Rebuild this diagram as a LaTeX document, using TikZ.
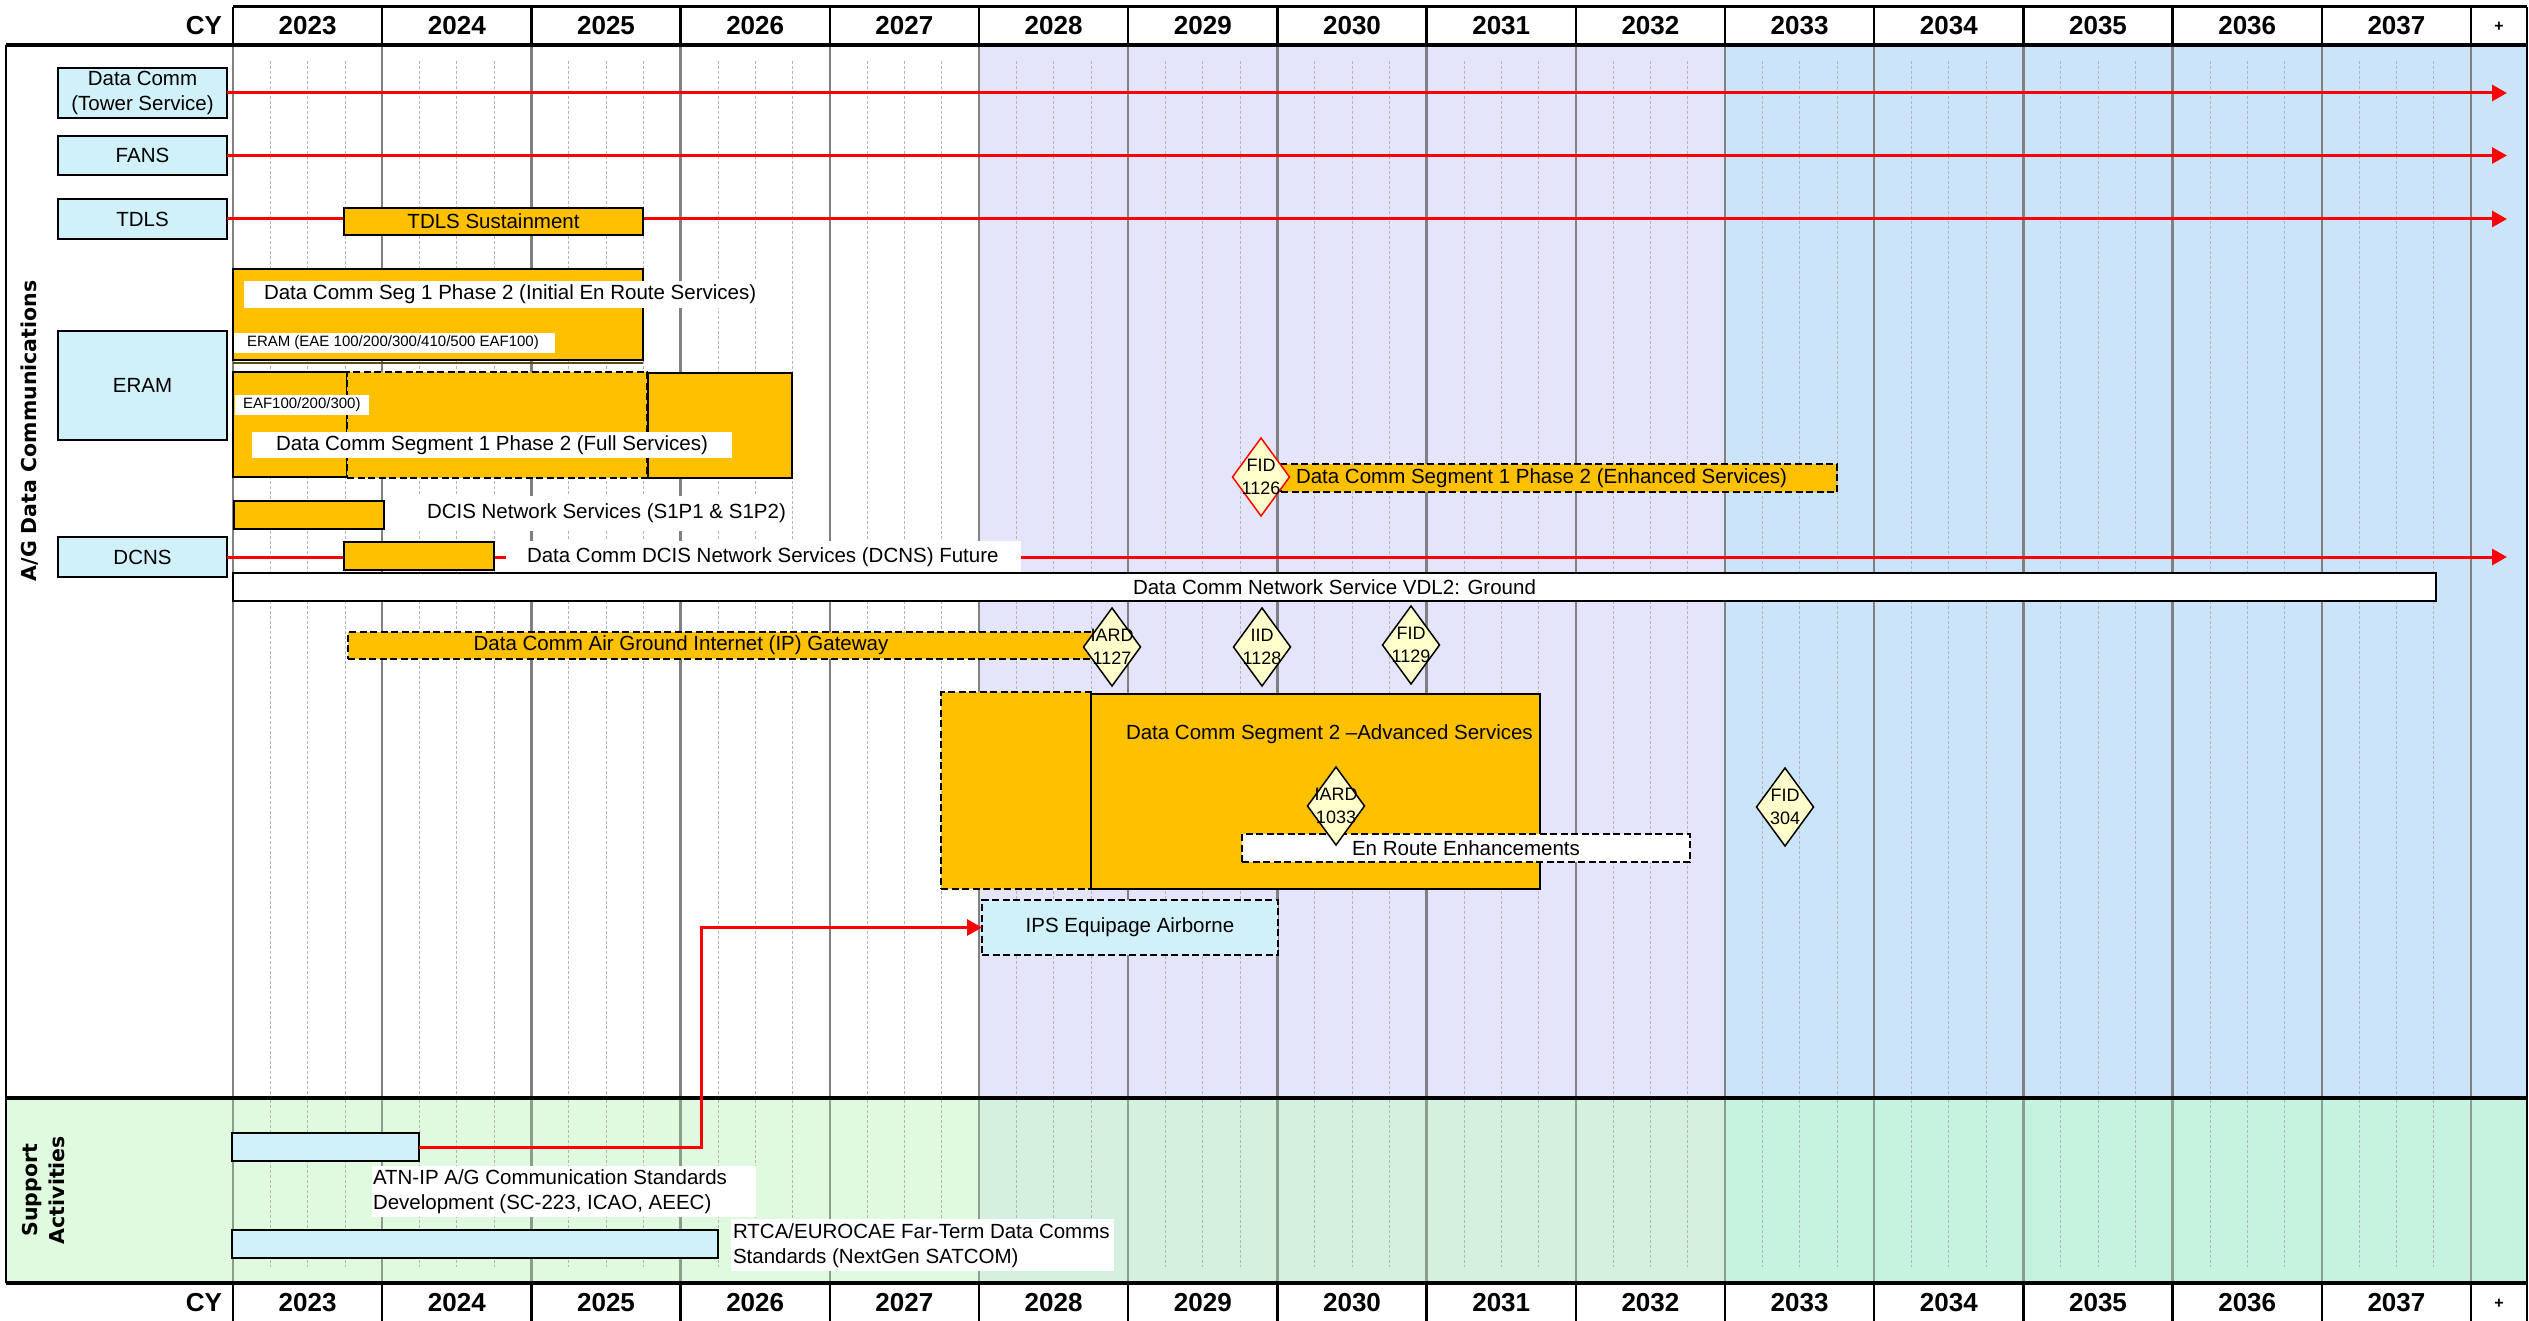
\documentclass[tikz,border=0pt]{standalone}
\usepackage{fontspec}
\setmainfont{Liberation Sans}
\newfontfamily\sidefont{DejaVu Sans}
\usetikzlibrary{arrows.meta,shapes.geometric}
\definecolor{orng}{HTML}{FFC000}
\definecolor{cyanb}{HTML}{D0F0FA}
\definecolor{lav}{HTML}{E4E4FB}
\definecolor{lblue}{HTML}{CCE4FA}
\definecolor{gA}{HTML}{E0FAE0}
\definecolor{gB}{HTML}{D4F0DF}
\definecolor{gC}{HTML}{C6F2E0}
\definecolor{diaf}{HTML}{FFFFCC}
\definecolor{redc}{HTML}{FF0000}
\definecolor{gridg}{HTML}{808080}
\definecolor{gridgs}{HTML}{8A9E8E}
\definecolor{qgray}{HTML}{B4B4B4}
\definecolor{shadowc}{HTML}{5A4A10}
\newcommand\tfont{\fontsize{20.5}{25}\selectfont}
\newcommand\smfont{\fontsize{15}{18}\selectfont}
\newcommand\dfont{\fontsize{18}{22.5}\selectfont}
\newcommand\yfont{\fontsize{26}{30}\selectfont\bfseries}
\newcommand\rfont{\sidefont\bfseries\fontsize{20.5}{27}\selectfont}
\newcommand\gbox[7]{\pgfmathsetmacro\gw{#5-#3}\pgfmathsetmacro\gh{#6-#4}%
  \node[#2, minimum width=\gw pt, minimum height=\gh pt, anchor=north west] (#1) at (#3,#4) {#7};}
\begin{document}
\begin{tikzpicture}[x=1pt,y=-1pt,
  every node/.style={inner sep=0pt,outer sep=0pt,font=\tfont},
  ob/.style={draw=black,line width=2.5pt,fill=orng},
  obd/.style={ob,dash pattern=on 7pt off 3.5pt},
  cb/.style={draw=black,line width=2.5pt,fill=cyanb,align=center},
  redl/.style={draw=redc,line width=3pt},
  reda/.style={redl,-{Triangle[length=15pt,width=16pt]}},
  yl/.style={draw=gridg,line width=2.5pt},
  yls/.style={draw=gridgs,line width=2.5pt},
  ql/.style={draw=qgray,line width=0.7pt,dash pattern=on 3pt off 2pt},
  dia/.style={diamond,draw=black,line width=1.5pt,fill=diaf,minimum width=57pt,minimum height=78pt,inner sep=0pt},
  dtext/.style={font=\dfont,align=center,inner sep=0pt},
  yr/.style={font=\yfont}
]
\useasboundingbox (0,0) rectangle (2529,1321);
\fill[white] (0,0) rectangle (2529,1321);
% backgrounds
\fill[lav] (979,45) rectangle (1725,1097.5);
\fill[lblue] (1725,45) rectangle (2527,1097.5);
\fill[gA] (6,1097.5) rectangle (979,1283);
\fill[gB] (979,1097.5) rectangle (1725,1283);
\fill[gC] (1725,1097.5) rectangle (2527,1283);
% quarter lines
\foreach \i in {0,...,14}{
  \foreach \k in {1,2,3}{
    \pgfmathsetmacro\qx{233+149.2*\i+37.3*\k}
    \draw[ql] (\qx,61) -- (\qx,1097);
    \draw[ql] (\qx,1100) -- (\qx,1267);
  }
}
% year lines
\foreach \i in {0,...,15}{
  \pgfmathsetmacro\yx{233+149.2*\i}
  \draw[yl] (\yx,45) -- (\yx,1097.5);
  \draw[yls] (\yx,1097.5) -- (\yx,1283);
  \draw[line width=2.5pt] (\yx,7) -- (\yx,45);
  \draw[line width=2.5pt] (\yx,1283) -- (\yx,1321);
}
\draw[line width=2.5pt] (2527,7) -- (2527,45);
\draw[line width=2.5pt] (2527,1283) -- (2527,1321);
% frame
\draw[line width=3pt] (233,7) -- (2527,7);
\draw[line width=4pt] (6,45) -- (2527,45);
\draw[line width=4pt] (6,1097.5) -- (2527,1097.5);
\draw[line width=4pt] (6,1283) -- (2527,1283);
\draw[line width=2.5pt] (6,45) -- (6,1283);
\draw[line width=2pt] (2527,45) -- (2527,1283);
% header labels
\node[yr] (cyt) at (204,26) {CY};
\node[yr] (cyb) at (204,1303) {CY};
\foreach \i [evaluate=\i as \xc using {233+149.2*\i+74.6}, evaluate=\i as \yy using {int(2023+\i)}] in {0,...,14}{
  \node[yr] (ht\i) at (\xc,26) {\yy};
  \node[yr] (hb\i) at (\xc,1303) {\yy};
}
\node[font=\fontsize{16}{18}\selectfont\bfseries] (plt) at (2499,27) {+};
\node[font=\fontsize{16}{18}\selectfont\bfseries] (plb) at (2499,1304) {+};
% side labels
\node[font=\rfont,rotate=90] (agl) at (30,431) {A/G Data Communications};
\node[font=\rfont,rotate=90,align=center] (sal) at (44,1190) {Support\\Activities};
% label boxes
\gbox{dc}{cb}{58}{68}{227}{118}{Data Comm\\(Tower Service)}
\gbox{fans}{cb}{58}{136}{227}{175}{FANS}
\gbox{tdls}{cb}{58}{199}{227}{239}{TDLS}
\gbox{eram}{cb}{58}{331}{227}{440}{ERAM}
\gbox{dcns}{cb}{58}{537}{227}{577}{DCNS}
% red timelines
\coordinate (dcend) at (2507,93);
\coordinate (fansend) at (2507,155.5);
\coordinate (tdlsend) at (2507,219);
\coordinate (dcnsend) at (2507,557);
\draw[reda] (dc.east) -- (dcend);
\draw[reda] (fans.east) -- (fansend);
\draw[reda] (tdls.east) -- (tdlsend);
\draw[reda] (dcns.east) -- (dcnsend);
% TDLS
\gbox{tdlss}{ob}{344}{208}{643}{235}{TDLS Sustainment}
% Seg 1 initial
\draw[draw=shadowc,line width=2pt] (233,363) -- (643,363);
\gbox{segi}{ob}{233}{269}{643}{360}{}
\fill[white] (244,281) rectangle (756,308);
\node[anchor=west] (segit) at (264,294.5) {Data Comm Seg 1 Phase 2 (Initial En Route Services)};
\fill[white] (234,333) rectangle (555,353);
\node[anchor=west,font=\smfont] (eramt) at (247,343) {ERAM (EAE 100/200/300/410/500 EAF100)};
% full services
\gbox{fsa}{ob}{233}{372}{347}{477}{}
\gbox{fsb}{obd}{347}{372}{647}{478}{}
\gbox{fsc}{ob}{648}{373}{792}{478}{}
\fill[white] (235,395) rectangle (369,415);
\node[anchor=west,font=\smfont] (eaft) at (243,405) {EAF100/200/300)};
\fill[white] (252,432) rectangle (732,458);
\node (fst) at (492,445) {Data Comm Segment 1 Phase 2 (Full Services)};
% DCIS
\gbox{dcis}{ob}{234}{501}{384}{529}{}
\fill[white] (415,496) rectangle (792,531);
\node[anchor=west] (dcist) at (427,513) {DCIS Network Services (S1P1 \& S1P2)};
% DCNS
\gbox{dcnsb}{ob}{344}{542}{494}{570}{}
\fill[white] (506,541) rectangle (1021,572);
\node[anchor=west] (dcnst) at (527,557) {Data Comm DCIS Network Services (DCNS) Future};
% VDL2
\gbox{vdl}{draw=black,line width=2.5pt,fill=white}{233}{573}{2436}{601}{Data Comm Network Service VDL2: Ground}
% IP gateway
\gbox{ipg}{obd}{348}{632}{1105}{659}{}
\node (ipgt) at (681,645.5) {Data Comm Air Ground Internet (IP) Gateway};
% Enhanced services
\gbox{enh}{obd}{1281}{464}{1837}{492}{}
\node[anchor=west] (enht) at (1296,478) {Data Comm Segment 1 Phase 2 (Enhanced Services)};
% Segment 2
\gbox{s2a}{obd}{941}{692}{1091}{889}{}
\gbox{s2b}{ob}{1091}{694}{1540}{889}{}
\node[anchor=west] (s2t) at (1126,734) {Data Comm Segment 2 –Advanced Services};
\gbox{enr}{draw=black,line width=2.5pt,dash pattern=on 7pt off 3.5pt,fill=white}{1242}{834}{1690}{862}{En Route Enhancements}
% IPS
\gbox{ips}{cb,dash pattern=on 7pt off 3.5pt}{982}{900}{1278}{955}{IPS Equipage Airborne}
% diamonds
\node[dia,draw=redc,label={[dtext]center:{FID\\1126}}] (d1126) at (1261,477) {};
\node[dia,label={[dtext]center:{IARD\\1127}}] (d1127) at (1112,647) {};
\node[dia,label={[dtext]center:{IID\\1128}}] (d1128) at (1262,647) {};
\node[dia,label={[dtext]center:{FID\\1129}}] (d1129) at (1411,645) {};
\node[dia,label={[dtext]center:{IARD\\1033}}] (d1033) at (1336,806) {};
\node[dia,label={[dtext]center:{FID\\304}}] (d304) at (1785,807) {};
% support activities
\gbox{atn}{cb}{232}{1133}{419}{1161}{}
\fill[white] (372,1166) rectangle (756,1217);
\node[anchor=west,align=left] (atnt) at (373,1192) {ATN-IP A/G Communication Standards\\Development (SC-223, ICAO, AEEC)};
\gbox{rtca}{cb}{232}{1230}{718}{1258}{}
\fill[white] (731,1219) rectangle (1114,1271);
\node[anchor=west,align=left] (rtcat) at (733,1246) {RTCA/EUROCAE Far-Term Data Comms\\Standards (NextGen SATCOM)};
% connector
\coordinate (bendx) at (701,0);
\draw[reda] (atn.east) -| (bendx |- ips.west) -- (ips.west);
\end{tikzpicture}
\end{document}
